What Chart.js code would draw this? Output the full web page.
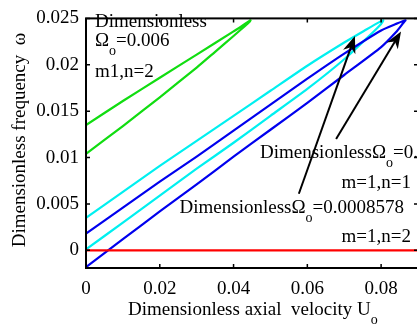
<!DOCTYPE html>
<html>
<head>
<meta charset="utf-8">
<script src="https://cdn.jsdelivr.net/npm/chart.js@4/dist/chart.umd.min.js"></script>
<style>
  html, body { margin: 0; padding: 0; overflow: hidden; background: #fff; }
</style>
</head>
<body>
<canvas id="chart" width="420" height="324"></canvas>
<script>
const xTicks = [0, 0.02, 0.04, 0.06, 0.08];
const xTickLabels = ['0', '0.02', '0.04', '0.06', '0.08'];
const yTicks = [0, 0.005, 0.01, 0.015, 0.02, 0.025];
const yTickLabels = ['0', '0.005', '0.01', '0.015', '0.02', '0.025'];

// Omega_o = 0.006 loop (upper branch out to the tip, lower branch back)
const greenU = [0, 0.01, 0.02, 0.03, 0.04, 0.042, 0.0442, 0.0446, 0.044, 0.042, 0.040, 0.035, 0.03, 0.02, 0.01, 0];
const greenW = [0.0135, 0.0161, 0.0186, 0.0211, 0.0236, 0.0241, 0.0247, 0.0248, 0.0245, 0.0238, 0.0231, 0.0214, 0.0197, 0.0165, 0.0134, 0.0104];

// cyan loop
const cyanU = [0, 0.01, 0.02, 0.03, 0.04, 0.05, 0.06, 0.07, 0.076, 0.0795, 0.0806, 0.0800, 0.077, 0.07, 0.06, 0.05, 0.04, 0.03, 0.02, 0.01, 0];
const cyanW = [0.0035, 0.0063, 0.0091, 0.0118, 0.0145, 0.0172, 0.0199, 0.0224, 0.0238, 0.0246, 0.0248, 0.0244, 0.0232, 0.0206, 0.0174, 0.0145, 0.0116, 0.0088, 0.0059, 0.0030, 0.0001];

// blue loop
const blueU = [0, 0.01, 0.02, 0.03, 0.04, 0.05, 0.06, 0.07, 0.08, 0.084, 0.0866, 0.086, 0.084, 0.08, 0.07, 0.06, 0.05, 0.04, 0.03, 0.02, 0.01, 0];
const blueW = [0.0018, 0.0046, 0.0074, 0.0101, 0.0129, 0.0157, 0.0185, 0.0212, 0.0237, 0.0244, 0.0248, 0.0245, 0.0235, 0.0219, 0.0189, 0.0159, 0.0130, 0.0101, 0.0071, 0.0042, 0.0012, -0.0018];

// Omega_o = 0.0008578, m=1 n=2
const redU = [0, 0.09];
const redW = [0, 0];

// arrows: [tailU, tailW, headU, headW]
const arrows = [
  [0.0577, 0.0061, 0.0729, 0.0231],
  [0.0678, 0.0120, 0.0854, 0.0236]
];

const MAIN = '19px "Liberation Serif"';
const SUB = '14px "Liberation Serif"';

function pts(us, ws) {
  return us.map((u, i) => ({ x: u, y: ws[i] }));
}

// draw text with subscript parts: [text, isSub]
function richText(ctx, parts, x, y, align) {
  let w = 0;
  parts.forEach(p => { ctx.font = p[1] ? SUB : MAIN; w += ctx.measureText(p[0]).width; });
  let cx = align === 'right' ? x - w : align === 'center' ? x - w / 2 : x;
  ctx.textAlign = 'left';
  ctx.textBaseline = 'alphabetic';
  parts.forEach(p => {
    ctx.font = p[1] ? SUB : MAIN;
    ctx.fillText(p[0], cx, p[1] ? y + 9 : y);
    cx += ctx.measureText(p[0]).width;
  });
}

function arrow(ctx, x1, y1, x2, y2) {
  const ang = Math.atan2(y2 - y1, x2 - x1);
  const len = 17, half = 6.5;
  ctx.beginPath();
  ctx.moveTo(x1, y1);
  ctx.lineTo(x2 - Math.cos(ang) * 10, y2 - Math.sin(ang) * 10);
  ctx.stroke();
  ctx.beginPath();
  ctx.moveTo(x2, y2);
  ctx.lineTo(x2 - Math.cos(ang) * len - Math.sin(ang) * half, y2 - Math.sin(ang) * len + Math.cos(ang) * half);
  ctx.lineTo(x2 - Math.cos(ang) * len * 0.7, y2 - Math.sin(ang) * len * 0.7);
  ctx.lineTo(x2 - Math.cos(ang) * len + Math.sin(ang) * half, y2 - Math.sin(ang) * len - Math.cos(ang) * half);
  ctx.closePath();
  ctx.fill();
}

const decor = {
  id: 'decor',
  afterDatasetsDraw(chart) {
    const { ctx, chartArea: a, scales: { x, y } } = chart;
    ctx.save();
    ctx.strokeStyle = '#000';
    ctx.fillStyle = '#000';
    ctx.lineWidth = 2;
    ctx.strokeRect(a.left, a.top, a.right - a.left, a.bottom - a.top);

    // inward tick marks on all four sides
    ctx.lineWidth = 1.5;
    ctx.beginPath();
    xTicks.forEach(v => {
      const px = x.getPixelForValue(v);
      ctx.moveTo(px, a.bottom); ctx.lineTo(px, a.bottom - 4);
      ctx.moveTo(px, a.top); ctx.lineTo(px, a.top + 4);
    });
    yTicks.forEach(v => {
      const py = y.getPixelForValue(v);
      ctx.moveTo(a.left, py); ctx.lineTo(a.left + 4, py);
      ctx.moveTo(a.right, py); ctx.lineTo(a.right - 4, py);
    });
    ctx.stroke();

    // arrows
    ctx.lineWidth = 2;
    arrows.forEach(r => arrow(ctx, x.getPixelForValue(r[0]), y.getPixelForValue(r[1]),
      x.getPixelForValue(r[2]), y.getPixelForValue(r[3])));

    // annotations
    richText(ctx, [['Dimensionless', false]], 95, 27, 'left');
    richText(ctx, [['\u03A9', false], ['o', true], ['=0.006', false]], 95, 46, 'left');
    richText(ctx, [['m1,n=2', false]], 95, 77, 'left');
    richText(ctx, [['Dimensionless\u03A9', false], ['o', true], ['=0.', false]], 260, 158, 'left');
    richText(ctx, [['m=1,n=1', false]], 411, 188, 'right');
    richText(ctx, [['Dimensionless\u03A9', false], ['o', true], ['=0.0008578', false]], 404, 213, 'right');
    richText(ctx, [['m=1,n=2', false]], 411, 242, 'right');

    // axis titles
    richText(ctx, [['Dimensionless axial  velocity U', false], ['o', true]], 128, 315, 'left');
    ctx.translate(20, 140);
    ctx.rotate(-Math.PI / 2);
    ctx.font = MAIN;
    ctx.textAlign = 'center';
    ctx.textBaseline = 'middle';
    ctx.fillText('Dimensionless frequency  \u03C9', 0, 0);
    ctx.restore();
  }
};

const tickFont = { family: 'Liberation Serif', size: 19 };

new Chart(document.getElementById('chart'), {
  type: 'scatter',
  data: {
    datasets: [
      { data: pts(redU, redW), borderColor: '#ff0000' },
      { data: pts(blueU, blueW), borderColor: '#0000ee' },
      { data: pts(cyanU, cyanW), borderColor: '#00f0f0' },
      { data: pts(greenU, greenW), borderColor: '#11dd11' }
    ]
  },
  options: {
    responsive: false,
    animation: false,
    layout: { padding: { left: 0, right: 2, top: 14, bottom: 0 } },
    plugins: { legend: { display: false }, tooltip: { enabled: false } },
    elements: {
      point: { radius: 0 },
      line: { borderWidth: 2.2, tension: 0.2, fill: false }
    },
    datasets: { scatter: { showLine: true } },
    scales: {
      x: {
        type: 'linear', min: 0, max: 0.09,
        grid: { display: false, drawTicks: false },
        border: { display: false },
        afterBuildTicks: s => { s.ticks = xTicks.map(v => ({ value: v })); },
        ticks: { padding: 10, color: '#000', font: tickFont, maxRotation: 0,
          callback: (v, i) => xTickLabels[i] },
        afterFit: s => { s.height = 56; }
      },
      y: {
        type: 'linear', min: -0.0019, max: 0.025,
        grid: { display: false, drawTicks: false },
        border: { display: false },
        afterBuildTicks: s => { s.ticks = yTicks.map(v => ({ value: v })); },
        ticks: { padding: 7, color: '#000', font: tickFont,
          callback: (v, i) => yTickLabels[i] },
        afterFit: s => { s.width = 86; }
      }
    }
  },
  plugins: [decor]
});
</script>
</body>
</html>
